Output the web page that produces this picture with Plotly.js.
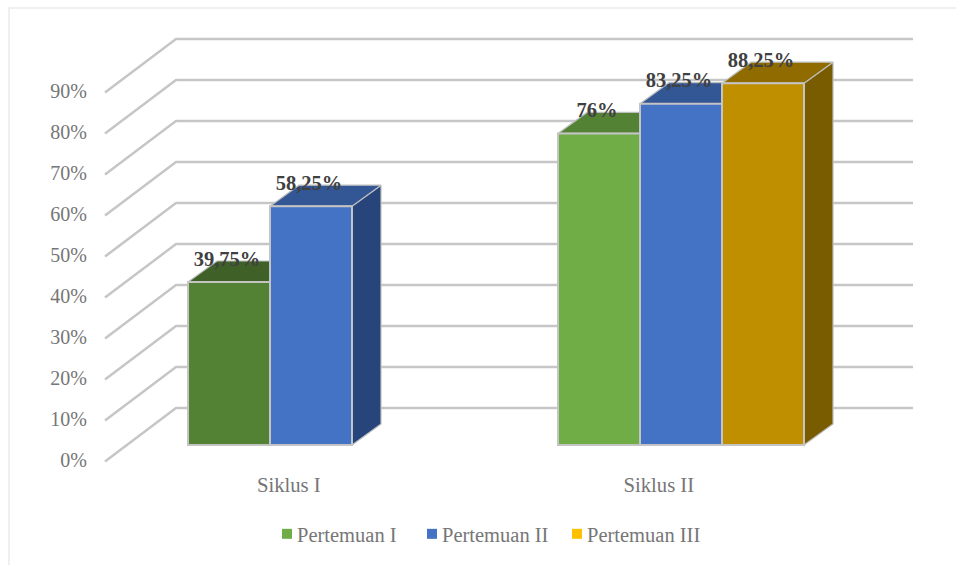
<!DOCTYPE html>
<html>
<head>
<meta charset="utf-8">
<script src="https://cdn.plot.ly/plotly-3.0.1.min.js"></script>
<style>
  html, body { margin: 0; padding: 0; background: #fff; overflow: hidden; }
  #frame { position: absolute; left: 8px; top: 7px; width: 960px; height: 570px; border: 2px solid #efefef; box-sizing: border-box; }
  #chart { position: absolute; left: 0; top: 0; width: 956px; height: 565px; }
</style>
</head>
<body>
<div id="frame"></div>
<div id="chart"></div>
<script>
// Percentages per teaching cycle and meeting
const categories = ["Siklus I", "Siklus II"];
const pertemuan1 = [39.75, 76];
const pertemuan2 = [58.25, 83.25];
const pertemuan3 = [null, 88.25];
const gridValues = [0, 10, 20, 30, 40, 50, 60, 70, 80, 90];
const gridLabels = ["0%", "10%", "20%", "30%", "40%", "50%", "60%", "70%", "80%", "90%"];
const seriesNames = ["Pertemuan I", "Pertemuan II", "Pertemuan III"];
const legendColors = ["#70AD47", "#4472C4", "#FFC000"];

// Face colours for each bar, per cycle: front, top, side
const frontColors = [["#548235", "#70AD47"], ["#4472C4", "#4472C4"], ["#BF8F00", "#BF8F00"]];
const topColors = [["#3F6128", "#548235"], ["#335695", "#335695"], ["#8F6B00", "#8F6B00"]];
const sideColors = [["#2F4A1F", "#3F6128"], ["#27457A", "#27457A"], ["#7A5C00", "#7A5C00"]];

// Oblique projection: x in category units, y in percent
const PX_X = 370, PX_Y = 4.1;
const plotLeft = 88, plotBottom = 470, zeroPx = 459.5, catPx = 311;
const barWidth = 82 / PX_X;
const depthX = 29 / PX_X, depthY = 21 / PX_Y;
const barBase = 14.5 / PX_Y;
const wallFrontX = (105 - catPx) / PX_X, wallBackX = (176 - catPx) / PX_X, wallRightX = (913 - catPx) / PX_X;
const wallFrontY = -0.5, wallBackY = 12.55;
const labelRise = 21.5 / PX_Y;
const tickShift = -0.06;

const xRange = [(plotLeft - catPx) / PX_X, (956 - catPx) / PX_X];
const yRange = [(zeroPx - plotBottom) / PX_Y, zeroPx / PX_Y];

const traces = [];

// Floor-and-wall grid lines
const gridX = [], gridY = [];
gridValues.forEach(v => {
  gridX.push(wallFrontX, wallBackX, wallRightX, null);
  gridY.push(v + wallFrontY, v + wallBackY, v + wallBackY, null);
});
traces.push({
  type: "scatter", mode: "lines", x: gridX, y: gridY, yaxis: "y",
  line: { color: "#C6C6C6", width: 2.5 }, showlegend: false, hoverinfo: "skip"
});

const allSeries = [pertemuan1, pertemuan2, pertemuan3];

// Top and side faces sit behind every front face
allSeries.forEach((values, s) => {
  values.forEach((v, c) => {
    if (v === null) return;
    const left = c + (s - 1) * barWidth - barWidth / 2;
    const right = left + barWidth;
    const top = barBase + v;
    traces.push({
      type: "scatter", mode: "lines", fill: "toself", yaxis: "y",
      x: [right, right + depthX, right + depthX, right, right],
      y: [barBase, barBase + depthY, top + depthY, top, barBase],
      fillcolor: sideColors[s][c], line: { color: "#BDBDBD", width: 1.2 },
      showlegend: false, hoverinfo: "skip"
    });
    traces.push({
      type: "scatter", mode: "lines", fill: "toself", yaxis: "y",
      x: [left, left + depthX, right + depthX, right, left],
      y: [top, top + depthY, top + depthY, top, top],
      fillcolor: topColors[s][c], line: { color: "#BDBDBD", width: 1.2 },
      showlegend: false, hoverinfo: "skip"
    });
  });
});

// Front faces
allSeries.forEach((values, s) => {
  traces.push({
    type: "bar", yaxis: "y2", name: seriesNames[s], showlegend: false,
    x: categories.map((_, c) => c + (s - 1) * barWidth),
    y: values, base: barBase, width: barWidth,
    marker: { color: frontColors[s], line: { color: "#C4C4C4", width: 2 } },
    hoverinfo: "skip"
  });
});

// Value labels, written with a decimal comma
const labelX = [], labelY = [], labelText = [];
allSeries.forEach((values, s) => {
  values.forEach((v, c) => {
    if (v === null) return;
    labelX.push(c + (s - 1) * barWidth - 2 / PX_X);
    labelY.push(barBase + v + labelRise);
    labelText.push(String(v).replace(".", ",") + "%");
  });
});
traces.push({
  type: "scatter", mode: "text", yaxis: "y2", x: labelX, y: labelY, text: labelText,
  textposition: "middle center",
  textfont: { family: "Liberation Serif", size: 20.5, color: "#404040", weight: 700 },
  showlegend: false, hoverinfo: "skip"
});

// Legend keys
seriesNames.forEach((name, s) => {
  traces.push({
    type: "scatter", mode: "markers", x: [null], y: [null], yaxis: "y", name: name,
    marker: { symbol: "square", size: 10, color: legendColors[s] }, hoverinfo: "skip"
  });
});
// Blank last entry keeps the legend box wide enough for the longest name
traces.push({
  type: "scatter", mode: "markers", x: [null], y: [null], yaxis: "y", name: "\u00a0",
  marker: { symbol: "square", size: 10, color: "rgba(0,0,0,0)" }, hoverinfo: "skip"
});

const layout = {
  width: 956, height: 565,
  margin: { l: plotLeft, r: 0, t: 0, b: 565 - plotBottom, pad: 0 },
  paper_bgcolor: "rgba(0,0,0,0)", plot_bgcolor: "rgba(0,0,0,0)",
  barmode: "overlay",
  font: { family: "Liberation Serif", size: 20, color: "#767676" },
  xaxis: {
    range: xRange, showgrid: false, zeroline: false, showline: false, ticks: "",
    tickmode: "array", tickvals: categories.map((_, c) => c + tickShift), ticktext: categories,
    tickfont: { family: "Liberation Serif", size: 20.7, color: "#767676" }
  },
  yaxis: {
    range: yRange, showgrid: false, zeroline: false, showline: false, ticks: "",
    tickmode: "array", tickvals: gridValues, ticktext: gridLabels,
    tickfont: { family: "Liberation Serif", size: 20, color: "#767676" }
  },
  yaxis2: { range: yRange, overlaying: "y", visible: false },
  showlegend: true,
  legend: {
    orientation: "h", xanchor: "left", yanchor: "top",
    x: (257 - plotLeft) / (956 - plotLeft), y: (plotBottom - 514) / plotBottom,
    entrywidth: 100, entrywidthmode: "pixels", itemclick: false, itemdoubleclick: false,
    font: { family: "Liberation Serif", size: 20.5, color: "#767676" },
    bgcolor: "rgba(0,0,0,0)"
  }
};

Plotly.newPlot("chart", traces, layout, { displayModeBar: false, staticPlot: true }).then(gd => {
  // Tighten the gap between each legend key and its text
  gd.querySelectorAll(".legend .legendsymbols").forEach(g => g.setAttribute("transform", "translate(10,0)"));
});
</script>
</body>
</html>
